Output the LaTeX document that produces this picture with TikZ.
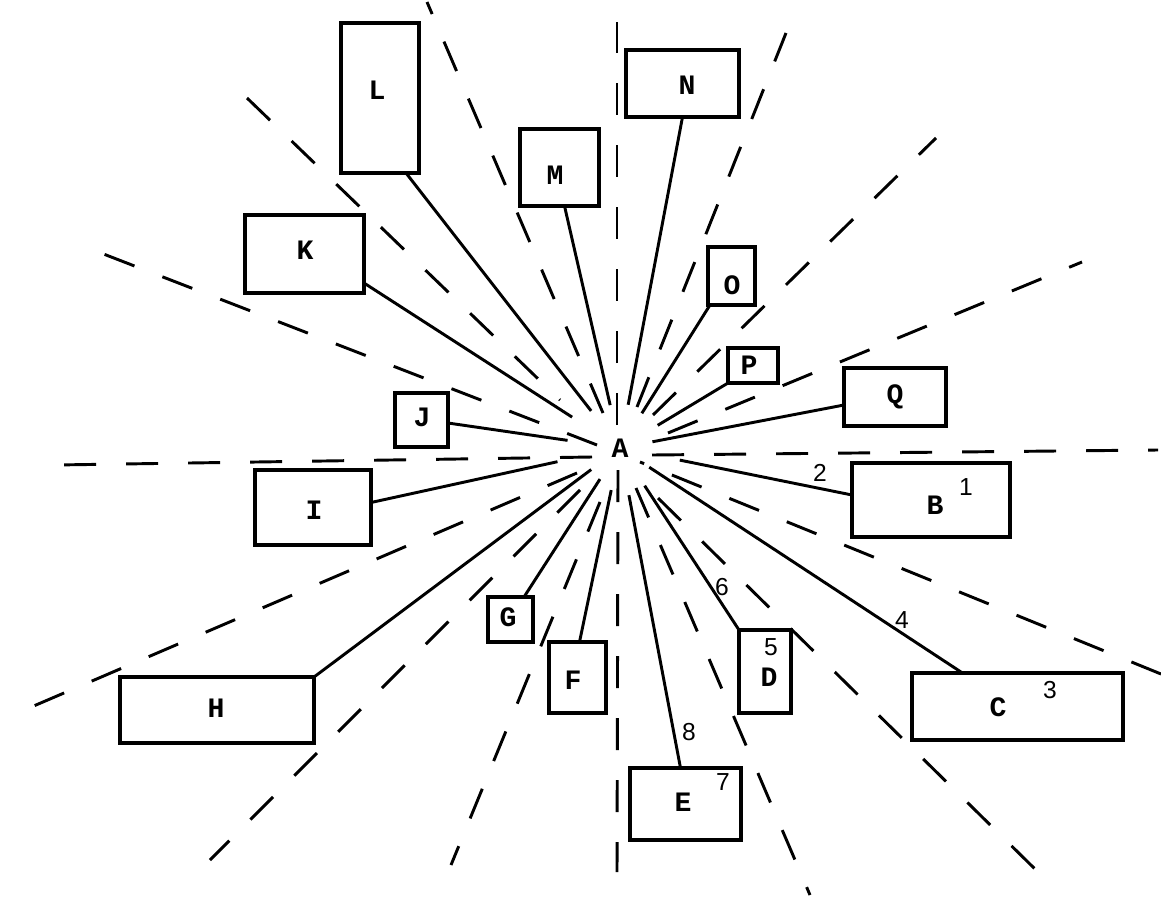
\documentclass[tikz,border=0pt]{standalone}
\usepackage{fontspec}
\setmainfont{Liberation Serif}
\setmonofont{Liberation Mono}
\newfontfamily\digitfont{Liberation Sans}
\usetikzlibrary{calc}
\begin{document}
\begin{tikzpicture}[x=0.03cm,y=-0.03cm,
  box/.style={draw, line width=2.8pt, inner sep=0pt, outer sep=0pt, rectangle},
  bx/.style 2 args={box, minimum width=#1*0.03cm, minimum height=#2*0.03cm},
  lab/.style={font=\ttfamily\bfseries\fontsize{24}{24}\selectfont, inner sep=0pt},
  num/.style={font=\digitfont\fontsize{21}{21}\selectfont, inner sep=0pt},
  conn/.style={line width=2.5pt},
  ray/.style={line width=2.5pt, dash pattern=on 0.96cm off 0.9cm}
]
\useasboundingbox (0,0) rectangle (1161,897);

% dashed guide rays
\draw[ray] (592,457) -- (55,465);
\draw[ray] (652,455) -- (1158,450);
\draw[ray] (617,425) -- (617,22);
\draw[ray] (618,470) -- (617,872);
\draw[ray] (597,445) -- (88,248);
\draw[ray] (247,98) -- (560,400);
\draw[ray] (603,413) -- (427,2);
\draw[ray] (637,407) -- (786,33);
\draw[ray] (653,415) -- (936,138);
\draw[ray] (668,433) -- (1082,262);
\draw[ray] (1161,674) -- (640,462);
\draw[ray] (658,498) -- (1036,870);
\draw[ray] (636,488) -- (810,895);
\draw[ray] (577,473) -- (8,717);
\draw[ray] (580,490) -- (210,860);
\draw[ray] (600,502) -- (451,865);

% boxes
\node[bx={78}{150}] (L) at (380,98) {};
\node[bx={79}{77}] (M) at (559.5,167.5) {};
\node[bx={113}{67}] (N) at (682.5,83.5) {};
\node[bx={119}{78}] (K) at (304.5,254) {};
\node[bx={47}{58}] (O) at (731.5,276) {};
\node[bx={50}{35}] (P) at (753,365.5) {};
\node[bx={102}{58}] (Q) at (895,397) {};
\node[bx={53}{54}] (J) at (421.5,420) {};
\node[bx={116}{75}] (I) at (313,507.5) {};
\node[bx={158}{74}] (B) at (931,500) {};
\node[bx={45}{45}] (G) at (510.5,619.5) {};
\node[bx={57}{71}] (F) at (577.5,677.5) {};
\node[bx={52}{83}] (D) at (765,671.5) {};
\node[bx={194}{66}] (H) at (217,710) {};
\node[bx={211}{67}] (C) at (1017.5,706.5) {};
\node[bx={111}{72}] (E) at (685.5,804) {};

% letters
\node[lab] (A) at (620,448) {A};
\node[lab] (tL) at (377,90) {L};
\node[lab] (tM) at (555,175) {M};
\node[lab] (tN) at (687,85) {N};
\node[lab] (tK) at (305,250) {K};
\node[lab] (tO) at (732,285) {O};
\node[lab] (tP) at (749,365) {P};
\node[lab] (tQ) at (895,397) {Q};
\node[lab] (tJ) at (422,417) {J};
\node[lab] (tI) at (314,510) {I};
\node[lab] (tB) at (935,505) {B};
\node[lab] (tG) at (508,617) {G};
\node[lab] (tF) at (573,680) {F};
\node[lab] (tD) at (769,677) {D};
\node[lab] (tH) at (216,708) {H};
\node[lab] (tC) at (998,707) {C};
\node[lab] (tE) at (683,802) {E};

% numbers
\node[num] (n1) at (966,487) {1};
\node[num] (n2) at (820,473) {2};
\node[num] (n3) at (1050,690) {3};
\node[num] (n4) at (902,620) {4};
\node[num] (n5) at (771,647) {5};
\node[num] (n6) at (722,587) {6};
\node[num] (n7) at (723,782) {7};
\node[num] (n8) at (689,732) {8};

% connectors
\draw[conn, shorten >=1.59cm] ($(J.east)+(0,3)$) -- (A.center);
\draw[conn, shorten >=1.71cm] ($(K.south east)+(0,-10)$) -- (A.center);
\draw[conn, shorten >=1.41cm] ($(L.south east)+(-13,0)$) -- (A.center);
\draw[conn, shorten >=1.32cm] ($(M.south)+(5,0)$) -- (A.center);
\draw[conn, shorten >=1.32cm] (N.south) -- (A.center);
\draw[conn, shorten >=1.23cm] ($(O.south west)+(2,0)$) -- (A.center);
\draw[conn, shorten >=1.32cm] (P.south west) -- (A.center);
\draw[conn, shorten >=0.99cm] ($(Q.west)+(0,8)$) -- (A.center);
\draw[conn, shorten >=1.83cm] ($(B.west)+(0,-5)$) -- (A.center);
\draw[conn, shorten >=1.05cm] ($(C.north)+(-55,0)$) -- (A.center);
\draw[conn, shorten >=1.35cm] (D.north west) -- (A.center);
\draw[conn, shorten >=1.44cm] ($(E.north)+(-5,0)$) -- (A.center);
\draw[conn, shorten >=1.29cm] ($(F.north)+(2,0)$) -- (A.center);
\draw[conn, shorten >=1.11cm] ($(G.north east)+(-9,0)$) -- (A.center);
\draw[conn, shorten >=1.08cm] (H.north east) -- (A.center);
\draw[conn, shorten >=1.92cm] ($(I.east)+(0,-5)$) -- (A.center);
\end{tikzpicture}
\end{document}
